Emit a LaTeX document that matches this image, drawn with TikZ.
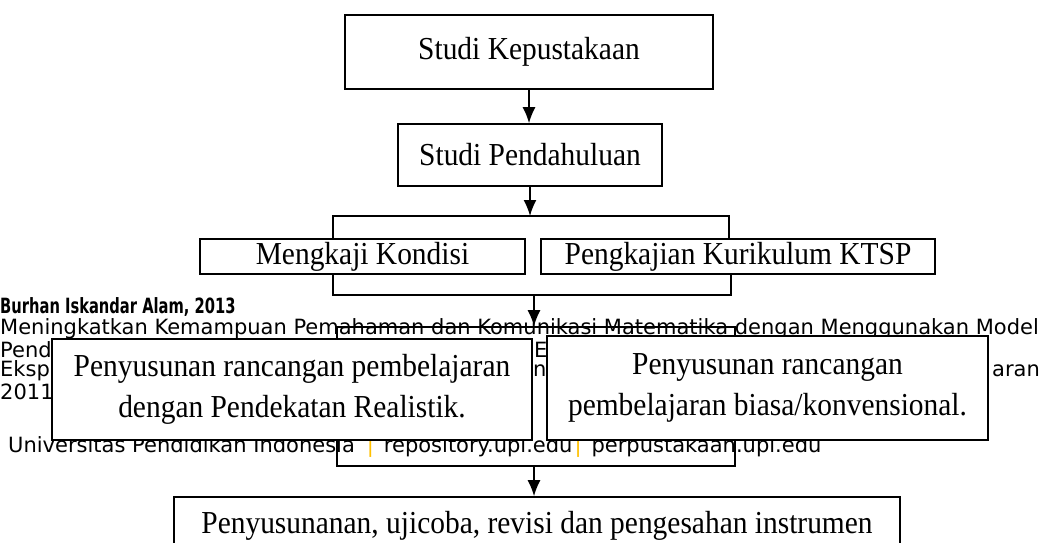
\documentclass[tikz,border=0pt]{standalone}
\usepackage{fontspec}
\setmainfont{Liberation Serif}[FakeStretch=0.92]
\newfontfamily\footfont{DejaVu Sans}
\newfontfamily\footboldfont{DejaVu Sans}[FakeStretch=0.7]
\usetikzlibrary{arrows.meta}
\definecolor{upiorange}{RGB}{255,192,0}

\begin{document}
\begin{tikzpicture}[x=1pt, y=-1pt,
    box/.style={draw, fill=white, line width=1.6pt, align=center, inner sep=0pt,
      font=\fontsize{32}{41}\selectfont},
    foot/.style={anchor=west, inner sep=0pt, font=\footfont\fontsize{21}{21}\selectfont},
    arr/.style={line width=1.6pt, -{Latex[length=16pt,width=13pt]}}]
  \useasboundingbox (0,0) rectangle (1048,542);
  \clip (0,0) rectangle (1048,542);

  % page footer lying behind the chart
  \node[foot, font=\footboldfont\bfseries\fontsize{21}{21}\selectfont] (fauthor) at (0,307) {Burhan Iskandar Alam, 2013};
  \node[foot] (ftitle) at (0,329) {Meningkatkan Kemampuan Pemahaman dan Komunikasi Matematika dengan Menggunakan Model};
  \node[foot] (fpen) at (0,350) {Pend};
  \node[foot] (fmidA) at (534,350) {E};
  \node[foot] (feksp) at (0,371) {Eksp};
  \node[foot] (fmidB) at (533,371) {na};
  \node[foot, anchor=east] (faran) at (1040,371) {aran};
  \node[foot] (fyear) at (0,392) {2011};
  \node[foot] (fupi) at (8,447) {Universitas Pendidikan Indonesia\hspace{12pt}{\color{upiorange}|}\hspace{10pt}repository.upi.edu\hspace{2pt}{\color{upiorange}|}\hspace{10pt}perpustakaan.upi.edu};

  % chart
  \node[box, minimum width=368, minimum height=74] (kepus) at (529,52) {Studi Kepustakaan};
  \node[box, minimum width=264, minimum height=62] (pendah) at (530,155) {Studi Pendahuluan};
  \node[box, minimum width=325, minimum height=35] (kondisi) at (362.5,256.5) {Mengkaji Kondisi};
  \node[box, minimum width=394, minimum height=35] (ktsp) at (738,256.5) {Pengkajian Kurikulum KTSP};
  \node[draw, line width=1.6pt, minimum width=398, minimum height=139] (wadah) at (536,396.5) {};
  \node[box, minimum width=480, minimum height=101] (realistik) at (292,389.5) {Penyusunan rancangan pembelajaran\\dengan Pendekatan Realistik.};
  \node[box, minimum width=441, minimum height=104] (konven) at (767.5,388) {Penyusunan rancangan\\pembelajaran biasa/konvensional.};
  \node[box, minimum width=726, minimum height=58] (instrumen) at (537,526) {Penyusunanan, ujicoba, revisi dan pengesahan instrumen};

  \coordinate (pecah) at (530,216);
  \coordinate (pecahL) at (333,216);
  \coordinate (pecahR) at (729,216);
  \coordinate (gabung) at (534,295);
  \coordinate (gabungL) at (333,295);
  \coordinate (gabungR) at (731,295);

  \draw[arr] (kepus.south) -- (kepus.south |- pendah.north);
  \draw[arr] (pendah.south) -- (pendah.south |- pecah);
  \draw[line width=1.6pt] (kondisi.north -| pecahL) |- (pecahR) -- (ktsp.north -| pecahR);
  \draw[line width=1.6pt] (kondisi.south -| gabungL) |- (gabungR) -- (ktsp.south -| gabungR);
  \draw[arr] (gabung) -- (gabung |- wadah.north);
  \draw[arr] (wadah.south -| gabung) -- (gabung |- instrumen.north);
\end{tikzpicture}
\end{document}
